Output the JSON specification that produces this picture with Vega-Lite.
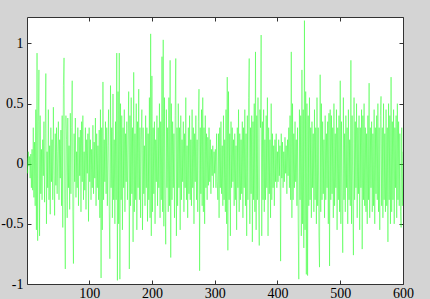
{
  "$schema": "https://vega.github.io/schema/vega-lite/v6.json",
  "width": 376,
  "height": 267,
  "autosize": {"type": "none"},
  "padding": {"left": 27, "top": 17, "right": 27, "bottom": 15},
  "background": "#d4d4d4",
  "config": {"view": {"fill": "white", "stroke": "#333333", "strokeWidth": 1}},
  "data": {"values": [
{"x":1,"y":0.05},{"x":2,"y":-0.08},{"x":3,"y":0.1},{"x":4,"y":-0.02},{"x":5,"y":0.06},{"x":6,"y":-0.12},{"x":7,"y":0.08},{"x":8,"y":-0.2},{"x":9,"y":0.12},{"x":10,"y":-0.22},
{"x":11,"y":0.3},{"x":12,"y":-0.28},{"x":13,"y":0.18},{"x":14,"y":-0.35},{"x":15,"y":0.45},{"x":16,"y":-0.55},{"x":17,"y":0.92},{"x":18,"y":-0.64},{"x":19,"y":0.35},{"x":20,"y":0.78},
{"x":21,"y":-0.6},{"x":22,"y":0.4},{"x":23,"y":-0.25},{"x":24,"y":0.12},{"x":25,"y":-0.3},{"x":26,"y":0.2},{"x":27,"y":-0.1},{"x":28,"y":0.35},{"x":29,"y":-0.32},{"x":30,"y":0.25},
{"x":31,"y":0.75},{"x":32,"y":-0.5},{"x":33,"y":0.1},{"x":34,"y":-0.2},{"x":35,"y":0.45},{"x":36,"y":-0.3},{"x":37,"y":0.15},{"x":38,"y":-0.42},{"x":39,"y":0.3},{"x":40,"y":-0.15},
{"x":41,"y":0.2},{"x":42,"y":-0.3},{"x":43,"y":0.47},{"x":44,"y":-0.1},{"x":45,"y":-0.43},{"x":46,"y":0.25},{"x":47,"y":-0.18},{"x":48,"y":0.3},{"x":49,"y":-0.25},{"x":50,"y":0.1},
{"x":51,"y":0.35},{"x":52,"y":-0.3},{"x":53,"y":0.2},{"x":54,"y":-0.12},{"x":55,"y":0.28},{"x":56,"y":-0.35},{"x":57,"y":0.4},{"x":58,"y":-0.53},{"x":59,"y":0.65},{"x":60,"y":0.88},
{"x":61,"y":-0.3},{"x":62,"y":-0.875},{"x":63,"y":0.4},{"x":64,"y":0.2},{"x":65,"y":-0.45},{"x":66,"y":0.38},{"x":67,"y":-0.2},{"x":68,"y":0.15},{"x":69,"y":-0.38},{"x":70,"y":0.42},
{"x":71,"y":-0.25},{"x":72,"y":0.3},{"x":73,"y":0.69},{"x":74,"y":-0.4},{"x":75,"y":-0.83},{"x":76,"y":0.25},{"x":77,"y":-0.15},{"x":78,"y":0.38},{"x":79,"y":-0.28},{"x":80,"y":0.1},
{"x":81,"y":-0.2},{"x":82,"y":0.3},{"x":83,"y":-0.35},{"x":84,"y":0.22},{"x":85,"y":-0.1},{"x":86,"y":0.28},{"x":87,"y":-0.4},{"x":88,"y":0.35},{"x":89,"y":-0.15},{"x":90,"y":0.4},
{"x":91,"y":-0.3},{"x":92,"y":0.1},{"x":93,"y":-0.22},{"x":94,"y":0.3},{"x":95,"y":-0.38},{"x":96,"y":0.2},{"x":97,"y":-0.08},{"x":98,"y":0.25},{"x":99,"y":-0.48},{"x":100,"y":0.3},
{"x":101,"y":-0.15},{"x":102,"y":0.2},{"x":103,"y":-0.3},{"x":104,"y":0.12},{"x":105,"y":-0.2},{"x":106,"y":0.32},{"x":107,"y":-0.25},{"x":108,"y":0.18},{"x":109,"y":-0.12},{"x":110,"y":0.38},
{"x":111,"y":-0.35},{"x":112,"y":0.25},{"x":113,"y":-0.2},{"x":114,"y":0.15},{"x":115,"y":-0.3},{"x":116,"y":0.28},{"x":117,"y":-0.45},{"x":118,"y":0.45},{"x":119,"y":-0.95},{"x":120,"y":0.3},
{"x":121,"y":-0.55},{"x":122,"y":0.68},{"x":123,"y":-0.3},{"x":124,"y":0.2},{"x":125,"y":-0.15},{"x":126,"y":0.35},{"x":127,"y":-0.25},{"x":128,"y":0.3},{"x":129,"y":-0.35},{"x":130,"y":0.15},
{"x":131,"y":0.45},{"x":132,"y":-0.4},{"x":133,"y":-0.79},{"x":134,"y":0.65},{"x":135,"y":-0.2},{"x":136,"y":0.3},{"x":137,"y":-0.45},{"x":138,"y":0.58},{"x":139,"y":-0.3},{"x":140,"y":0.2},
{"x":141,"y":-0.5},{"x":142,"y":0.35},{"x":143,"y":-0.3},{"x":144,"y":0.92},{"x":145,"y":-0.97},{"x":146,"y":0.6},{"x":147,"y":-0.5},{"x":148,"y":0.92},{"x":149,"y":-0.96},{"x":150,"y":0.5},
{"x":151,"y":-0.3},{"x":152,"y":0.4},{"x":153,"y":-0.55},{"x":154,"y":0.3},{"x":155,"y":-0.2},{"x":156,"y":0.45},{"x":157,"y":-0.4},{"x":158,"y":0.25},{"x":159,"y":-0.15},{"x":160,"y":0.35},
{"x":161,"y":-0.3},{"x":162,"y":0.2},{"x":163,"y":0.6},{"x":164,"y":-0.875},{"x":165,"y":0.4},{"x":166,"y":-0.35},{"x":167,"y":0.55},{"x":168,"y":-0.25},{"x":169,"y":0.3},{"x":170,"y":-0.65},
{"x":171,"y":0.76},{"x":172,"y":-0.4},{"x":173,"y":0.25},{"x":174,"y":-0.3},{"x":175,"y":0.5},{"x":176,"y":-0.55},{"x":177,"y":0.35},{"x":178,"y":-0.2},{"x":179,"y":0.62},{"x":180,"y":-0.3},
{"x":181,"y":0.3},{"x":182,"y":-0.45},{"x":183,"y":0.2},{"x":184,"y":0.45},{"x":185,"y":-0.55},{"x":186,"y":0.3},{"x":187,"y":-0.25},{"x":188,"y":0.15},{"x":189,"y":-0.35},{"x":190,"y":0.4},
{"x":191,"y":-0.2},{"x":192,"y":0.3},{"x":193,"y":-0.48},{"x":194,"y":0.25},{"x":195,"y":-0.3},{"x":196,"y":0.55},{"x":197,"y":-0.45},{"x":198,"y":1.08},{"x":199,"y":-0.6},{"x":200,"y":0.73},
{"x":201,"y":-0.4},{"x":202,"y":0.3},{"x":203,"y":-0.25},{"x":204,"y":0.35},{"x":205,"y":-0.5},{"x":206,"y":0.2},{"x":207,"y":-0.15},{"x":208,"y":0.4},{"x":209,"y":-0.35},{"x":210,"y":0.3},
{"x":211,"y":-0.2},{"x":212,"y":0.5},{"x":213,"y":-0.45},{"x":214,"y":0.35},{"x":215,"y":-0.3},{"x":216,"y":0.89},{"x":217,"y":-0.4},{"x":218,"y":1.03},{"x":219,"y":-0.52},{"x":220,"y":0.55},
{"x":221,"y":-0.3},{"x":222,"y":-0.67},{"x":223,"y":0.45},{"x":224,"y":-0.2},{"x":225,"y":0.3},{"x":226,"y":-0.4},{"x":227,"y":0.55},{"x":228,"y":-0.35},{"x":229,"y":0.86},{"x":230,"y":-0.78},
{"x":231,"y":0.5},{"x":232,"y":-0.3},{"x":233,"y":0.35},{"x":234,"y":-0.2},{"x":235,"y":0.25},{"x":236,"y":-0.45},{"x":237,"y":0.4},{"x":238,"y":0.875},{"x":239,"y":-0.6},{"x":240,"y":0.3},
{"x":241,"y":-0.35},{"x":242,"y":0.5},{"x":243,"y":-0.2},{"x":244,"y":0.3},{"x":245,"y":-0.55},{"x":246,"y":0.4},{"x":247,"y":-0.3},{"x":248,"y":0.2},{"x":249,"y":-0.15},{"x":250,"y":0.35},
{"x":251,"y":-0.4},{"x":252,"y":0.25},{"x":253,"y":-0.2},{"x":254,"y":0.55},{"x":255,"y":-0.3},{"x":256,"y":0.15},{"x":257,"y":-0.45},{"x":258,"y":0.3},{"x":259,"y":-0.25},{"x":260,"y":0.4},
{"x":261,"y":-0.3},{"x":262,"y":0.2},{"x":263,"y":-0.35},{"x":264,"y":0.45},{"x":265,"y":-0.2},{"x":266,"y":0.3},{"x":267,"y":-0.5},{"x":268,"y":0.25},{"x":269,"y":-0.15},{"x":270,"y":0.4},
{"x":271,"y":-0.3},{"x":272,"y":0.2},{"x":273,"y":-0.4},{"x":274,"y":0.35},{"x":275,"y":0.62},{"x":276,"y":-0.89},{"x":277,"y":0.3},{"x":278,"y":-0.25},{"x":279,"y":0.45},{"x":280,"y":-0.35},
{"x":281,"y":0.55},{"x":282,"y":-0.4},{"x":283,"y":0.3},{"x":284,"y":-0.5},{"x":285,"y":0.4},{"x":286,"y":-0.2},{"x":287,"y":0.25},{"x":288,"y":-0.3},{"x":289,"y":0.22},{"x":290,"y":-0.18},
{"x":291,"y":0.3},{"x":292,"y":-0.15},{"x":293,"y":0.2},{"x":294,"y":-0.25},{"x":295,"y":0.12},{"x":296,"y":-0.1},{"x":297,"y":0.15},{"x":298,"y":-0.2},{"x":299,"y":0.1},{"x":300,"y":-0.08},
{"x":301,"y":0.12},{"x":302,"y":-0.2},{"x":303,"y":0.25},{"x":304,"y":-0.15},{"x":305,"y":-0.3},{"x":306,"y":0.25},{"x":307,"y":-0.45},{"x":308,"y":0.3},{"x":309,"y":-0.2},{"x":310,"y":0.35},
{"x":311,"y":-0.25},{"x":312,"y":0.15},{"x":313,"y":-0.35},{"x":314,"y":0.4},{"x":315,"y":-0.3},{"x":316,"y":0.2},{"x":317,"y":-0.4},{"x":318,"y":0.45},{"x":319,"y":-0.5},{"x":320,"y":0.72},
{"x":321,"y":-0.72},{"x":322,"y":0.6},{"x":323,"y":-0.3},{"x":324,"y":0.25},{"x":325,"y":-0.6},{"x":326,"y":0.35},{"x":327,"y":-0.2},{"x":328,"y":0.3},{"x":329,"y":-0.15},{"x":330,"y":0.2},
{"x":331,"y":-0.35},{"x":332,"y":0.25},{"x":333,"y":-0.3},{"x":334,"y":0.15},{"x":335,"y":-0.55},{"x":336,"y":0.3},{"x":337,"y":-0.2},{"x":338,"y":0.45},{"x":339,"y":-0.4},{"x":340,"y":0.25},
{"x":341,"y":-0.3},{"x":342,"y":0.2},{"x":343,"y":-0.25},{"x":344,"y":0.35},{"x":345,"y":-0.45},{"x":346,"y":0.3},{"x":347,"y":-0.2},{"x":348,"y":0.45},{"x":349,"y":-0.35},{"x":350,"y":0.25},
{"x":351,"y":-0.6},{"x":352,"y":0.4},{"x":353,"y":-0.3},{"x":354,"y":0.55},{"x":355,"y":0.875},{"x":356,"y":-0.5},{"x":357,"y":0.3},{"x":358,"y":-0.25},{"x":359,"y":0.4},{"x":360,"y":-0.65},
{"x":361,"y":0.35},{"x":362,"y":-0.3},{"x":363,"y":0.5},{"x":364,"y":-0.4},{"x":365,"y":0.93},{"x":366,"y":-0.55},{"x":367,"y":0.4},{"x":368,"y":-0.3},{"x":369,"y":0.55},{"x":370,"y":-0.35},
{"x":371,"y":-0.68},{"x":372,"y":0.45},{"x":373,"y":0.3},{"x":374,"y":1.07},{"x":375,"y":-0.6},{"x":376,"y":0.35},{"x":377,"y":-0.3},{"x":378,"y":0.45},{"x":379,"y":-0.4},{"x":380,"y":0.2},
{"x":381,"y":-0.3},{"x":382,"y":0.4},{"x":383,"y":-0.2},{"x":384,"y":0.55},{"x":385,"y":-0.6},{"x":386,"y":0.3},{"x":387,"y":-0.25},{"x":388,"y":0.2},{"x":389,"y":-0.45},{"x":390,"y":0.5},
{"x":391,"y":-0.3},{"x":392,"y":0.25},{"x":393,"y":-0.2},{"x":394,"y":0.15},{"x":395,"y":-0.35},{"x":396,"y":0.2},{"x":397,"y":-0.15},{"x":398,"y":0.25},{"x":399,"y":-0.2},{"x":400,"y":0.1},
{"x":401,"y":-0.15},{"x":402,"y":0.2},{"x":403,"y":-0.1},{"x":404,"y":0.15},{"x":405,"y":-0.81},{"x":406,"y":0.25},{"x":407,"y":-0.12},{"x":408,"y":0.18},{"x":409,"y":-0.2},{"x":410,"y":0.1},
{"x":411,"y":-0.15},{"x":412,"y":0.22},{"x":413,"y":-0.08},{"x":414,"y":0.15},{"x":415,"y":-0.25},{"x":416,"y":0.2},{"x":417,"y":-0.1},{"x":418,"y":0.3},{"x":419,"y":-0.2},{"x":420,"y":0.4},
{"x":421,"y":-0.3},{"x":422,"y":0.93},{"x":423,"y":-0.45},{"x":424,"y":0.5},{"x":425,"y":-0.3},{"x":426,"y":0.25},{"x":427,"y":-0.2},{"x":428,"y":0.35},{"x":429,"y":-0.15},{"x":430,"y":0.2},
{"x":431,"y":-0.35},{"x":432,"y":0.3},{"x":433,"y":-0.5},{"x":434,"y":-0.96},{"x":435,"y":0.45},{"x":436,"y":-0.3},{"x":437,"y":0.4},{"x":438,"y":-0.6},{"x":439,"y":0.78},{"x":440,"y":-0.5},
{"x":441,"y":0.45},{"x":442,"y":-0.7},{"x":443,"y":1.19},{"x":444,"y":-0.55},{"x":445,"y":0.6},{"x":446,"y":-0.92},{"x":447,"y":0.5},{"x":448,"y":-0.93},{"x":449,"y":0.4},{"x":450,"y":-0.35},
{"x":451,"y":0.55},{"x":452,"y":-0.3},{"x":453,"y":0.3},{"x":454,"y":-0.45},{"x":455,"y":0.35},{"x":456,"y":-0.2},{"x":457,"y":0.25},{"x":458,"y":-0.4},{"x":459,"y":0.45},{"x":460,"y":-0.3},
{"x":461,"y":0.3},{"x":462,"y":-0.5},{"x":463,"y":0.55},{"x":464,"y":-0.35},{"x":465,"y":0.3},{"x":466,"y":-0.6},{"x":467,"y":-0.86},{"x":468,"y":0.74},{"x":469,"y":-0.4},{"x":470,"y":0.5},
{"x":471,"y":-0.3},{"x":472,"y":0.35},{"x":473,"y":-0.25},{"x":474,"y":0.2},{"x":475,"y":-0.45},{"x":476,"y":0.4},{"x":477,"y":-0.3},{"x":478,"y":0.25},{"x":479,"y":-0.2},{"x":480,"y":0.35},
{"x":481,"y":-0.5},{"x":482,"y":0.42},{"x":483,"y":-0.85},{"x":484,"y":0.45},{"x":485,"y":-0.3},{"x":486,"y":0.4},{"x":487,"y":-0.25},{"x":488,"y":0.3},{"x":489,"y":-0.45},{"x":490,"y":0.5},
{"x":491,"y":-0.35},{"x":492,"y":0.25},{"x":493,"y":-0.2},{"x":494,"y":0.45},{"x":495,"y":-0.55},{"x":496,"y":0.3},{"x":497,"y":-0.3},{"x":498,"y":0.4},{"x":499,"y":-0.4},{"x":500,"y":0.69},
{"x":501,"y":-0.5},{"x":502,"y":0.35},{"x":503,"y":-0.3},{"x":504,"y":-0.74},{"x":505,"y":0.55},{"x":506,"y":-0.3},{"x":507,"y":0.25},{"x":508,"y":-0.4},{"x":509,"y":0.4},{"x":510,"y":-0.2},
{"x":511,"y":0.3},{"x":512,"y":-0.5},{"x":513,"y":0.45},{"x":514,"y":-0.3},{"x":515,"y":0.2},{"x":516,"y":-0.35},{"x":517,"y":0.86},{"x":518,"y":-0.5},{"x":519,"y":0.4},{"x":520,"y":-0.3},
{"x":521,"y":-0.76},{"x":522,"y":0.55},{"x":523,"y":-0.3},{"x":524,"y":0.35},{"x":525,"y":-0.2},{"x":526,"y":0.5},{"x":527,"y":-0.45},{"x":528,"y":0.3},{"x":529,"y":-0.25},{"x":530,"y":0.4},
{"x":531,"y":-0.55},{"x":532,"y":0.3},{"x":533,"y":-0.2},{"x":534,"y":0.45},{"x":535,"y":-0.71},{"x":536,"y":0.4},{"x":537,"y":-0.3},{"x":538,"y":0.5},{"x":539,"y":-0.35},{"x":540,"y":0.3},
{"x":541,"y":-0.4},{"x":542,"y":0.25},{"x":543,"y":-0.5},{"x":544,"y":0.4},{"x":545,"y":-0.3},{"x":546,"y":0.67},{"x":547,"y":-0.45},{"x":548,"y":0.3},{"x":549,"y":-0.2},{"x":550,"y":0.35},
{"x":551,"y":-0.4},{"x":552,"y":0.25},{"x":553,"y":-0.35},{"x":554,"y":0.45},{"x":555,"y":-0.5},{"x":556,"y":0.3},{"x":557,"y":-0.25},{"x":558,"y":0.4},{"x":559,"y":-0.3},{"x":560,"y":0.5},
{"x":561,"y":-0.4},{"x":562,"y":0.3},{"x":563,"y":-0.55},{"x":564,"y":0.4},{"x":565,"y":0.56},{"x":566,"y":-0.35},{"x":567,"y":0.3},{"x":568,"y":-0.45},{"x":569,"y":0.5},{"x":570,"y":-0.3},
{"x":571,"y":0.25},{"x":572,"y":-0.4},{"x":573,"y":0.45},{"x":574,"y":-0.35},{"x":575,"y":0.3},{"x":576,"y":-0.65},{"x":577,"y":0.5},{"x":578,"y":-0.3},{"x":579,"y":0.4},{"x":580,"y":-0.5},
{"x":581,"y":0.72},{"x":582,"y":-0.4},{"x":583,"y":0.35},{"x":584,"y":-0.3},{"x":585,"y":0.45},{"x":586,"y":-0.5},{"x":587,"y":0.3},{"x":588,"y":-0.2},{"x":589,"y":0.4},{"x":590,"y":-0.45},
{"x":591,"y":0.5},{"x":592,"y":-0.3},{"x":593,"y":0.35},{"x":594,"y":-0.35},{"x":595,"y":0.25},{"x":596,"y":-0.4},{"x":597,"y":-0.53},{"x":598,"y":0.3},{"x":599,"y":-0.35},{"x":600,"y":0.1}
  ]},
  "layer": [
    {
      "mark": {"type": "line", "color": "#22ff22", "strokeWidth": 0.45, "clip": true},
      "encoding": {
        "x": {"field": "x", "type": "quantitative", "scale": {"domain": [1, 600], "nice": false, "zero": false},
          "axis": {"orient": "bottom", "title": null, "values": [100, 200, 300, 400, 500, 600], "grid": false, "domain": false, "tickSize": -4, "tickColor": "#333333", "labelPadding": 6, "labelFlush": false, "labelFont": "Liberation Serif", "labelFontSize": 14, "labelColor": "black", "labelExpr": "'' + datum.value"}},
        "y": {"field": "y", "type": "quantitative", "scale": {"domain": [-1, 1.22], "nice": false, "zero": false},
          "axis": {"orient": "left", "title": null, "values": [-1, -0.5, 0, 0.5, 1], "grid": false, "domain": false, "tickSize": -4, "tickColor": "#333333", "labelPadding": 8, "labelFlush": false, "labelFont": "Liberation Serif", "labelFontSize": 14, "labelColor": "black", "labelExpr": "'' + datum.value"}}
      }
    },
    {
      "mark": {"type": "line", "opacity": 0},
      "encoding": {
        "x": {"field": "x", "type": "quantitative", "scale": {"domain": [1, 600], "nice": false, "zero": false},
          "axis": {"orient": "top", "title": null, "values": [100, 200, 300, 400, 500, 600], "grid": false, "domain": false, "tickSize": -4, "tickColor": "#333333", "labels": false}},
        "y": {"field": "y", "type": "quantitative", "scale": {"domain": [-1, 1.22], "nice": false, "zero": false},
          "axis": {"orient": "right", "title": null, "values": [-1, -0.5, 0, 0.5, 1], "grid": false, "domain": false, "tickSize": -4, "tickColor": "#333333", "labels": false}}
      }
    }
  ],
  "resolve": {"axis": {"x": "independent", "y": "independent"}}
}
